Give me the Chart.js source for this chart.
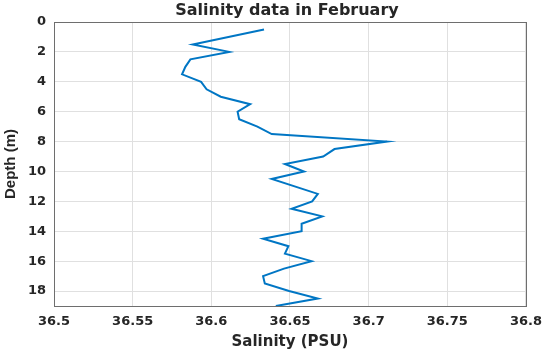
<!DOCTYPE html>
<html>
<head>
<meta charset="utf-8">
<script src="https://cdn.jsdelivr.net/npm/chart.js@4.4.0/dist/chart.umd.min.js"></script>
<style>
  html, body { margin: 0; padding: 0; background: #fff; }
  #wrap { width: 550px; height: 356px; }
</style>
</head>
<body>
<div id="wrap"><canvas id="salinityChart"></canvas></div>
<script>
// Salinity profile
const depthM = [0.5, 1.5, 2, 2.5, 3, 3.5, 4, 4.5, 5, 5.5, 6, 6.5, 7, 7.5, 8, 8.5, 9, 9.5,
    10, 10.5, 11.5, 12, 12.5, 13, 13.5, 14, 14.5, 15, 15.5, 16, 16.5, 17, 17.5, 18, 18.5, 19];
const salinityPSU = [36.6335, 36.5882, 36.6114, 36.5867, 36.5835, 36.5814, 36.5935, 36.597, 36.606, 36.6247,
    36.6167, 36.6177, 36.6293, 36.6384, 36.7116, 36.6783, 36.6711, 36.6468,
    36.6589, 36.6384, 36.6677, 36.6641, 36.651, 36.6705, 36.6574, 36.6574, 36.6329, 36.649, 36.6468,
    36.6637, 36.6462, 36.6329, 36.634, 36.6494, 36.6677, 36.641];
const xTicks = [36.5, 36.55, 36.6, 36.65, 36.7, 36.75, 36.8];
const yTicks = [0, 2, 4, 6, 8, 10, 12, 14, 16, 18];

const titleText = 'Salinity data in February';
const textColor = '#262626';

// draws the box around the plot and the title over the plot area
const boxAndTitle = {
    id: 'boxAndTitle',
    afterDraw(chart) {
        const ctx = chart.ctx;
        const a = chart.chartArea;
        ctx.save();
        ctx.strokeStyle = '#6e6e6e';
        ctx.lineWidth = 1;
        ctx.strokeRect(Math.round(a.left) + 0.5, Math.round(a.top) + 0.5,
            Math.round(a.right - a.left), Math.round(a.bottom - a.top));
        ctx.fillStyle = textColor;
        ctx.font = 'bold 16px "DejaVu Sans"';
        ctx.textAlign = 'center';
        ctx.textBaseline = 'middle';
        ctx.fillText(titleText, (a.left + a.right) / 2 - 3, 11);
        ctx.restore();
    }
};

const ctxSal = document.getElementById('salinityChart').getContext('2d');
const salinityChart = new Chart(ctxSal, {
    type: 'scatter',
    data: {
        datasets: [{
            label: 'Salinity',
            data: depthM.map((d, i) => ({ x: salinityPSU[i], y: d })),
            showLine: true,
            borderColor: 'rgb(0, 118, 196)',
            borderWidth: 2,
            pointRadius: 0,
            tension: 0,
            fill: false
        }]
    },
    options: {
        responsive: true,
        maintainAspectRatio: false,
        animation: false,
        layout: {
            padding: { top: 22, right: 22, left: 0, bottom: 0 }
        },
        scales: {
            x: {
                type: 'linear',
                min: 36.5,
                max: 36.8,
                afterBuildTicks: scale => { scale.ticks = xTicks.map(v => ({ value: v })); },
                afterFit: scale => { scale.height = 50; },
                grid: { color: '#e0e0e0', drawTicks: false },
                border: { display: false },
                ticks: {
                    padding: 8,
                    color: textColor,
                    font: { family: 'DejaVu Sans', weight: 'bold', size: 13 },
                    callback: v => String(parseFloat(Number(v).toFixed(2)))
                },
                title: {
                    display: true,
                    text: 'Salinity (PSU)',
                    color: textColor,
                    font: { family: 'DejaVu Sans', weight: 'bold', size: 15 },
                    padding: { top: 0, bottom: 5 }
                }
            },
            y: {
                type: 'linear',
                reverse: true,
                min: 0,
                max: 19,
                afterBuildTicks: scale => { scale.ticks = yTicks.map(v => ({ value: v })); },
                afterFit: scale => { scale.width = 54; },
                grid: { color: '#e0e0e0', drawTicks: false },
                border: { display: false },
                ticks: {
                    padding: 8,
                    color: textColor,
                    font: { family: 'DejaVu Sans', weight: 'bold', size: 13 }
                },
                title: {
                    display: true,
                    text: 'Depth (m)',
                    color: textColor,
                    font: { family: 'Liberation Sans', weight: 'bold', size: 15 },
                    padding: { top: 2, bottom: 0 }
                }
            }
        },
        plugins: {
            legend: { display: false },
            tooltip: { enabled: false }
        }
    },
    plugins: [boxAndTitle]
});
</script>
</body>
</html>
